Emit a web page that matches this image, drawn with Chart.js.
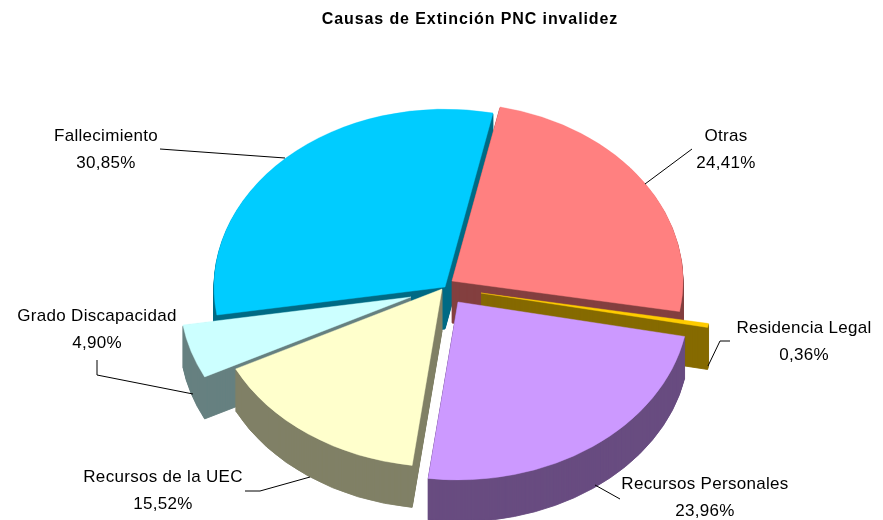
<!DOCTYPE html>
<html>
<head>
<meta charset="utf-8">
<title>Causas de Extinción PNC invalidez</title>
<style>
    html, body { margin: 0; padding: 0; background: #fff; }
    canvas { display: block; }
</style>
<script src="https://cdn.jsdelivr.net/npm/chart.js@4"></script>
</head>
<body>
<canvas id="myChart" width="883" height="520"></canvas>
<script>
const title = 'Causas de Extinción PNC invalidez';
const labels = ['Otras', 'Residencia Legal', 'Recursos Personales', 'Recursos de la UEC', 'Grado Discapacidad', 'Fallecimiento'];
const values = [24.41, 0.36, 23.96, 15.52, 4.90, 30.85];

const topColors = ['#FF8080', '#FFCC00', '#CC99FF', '#FFFFCC', '#CCFFFF', '#00CCFF'];
const sideColors = ['#843F3F', '#866A00', '#684C80', '#808066', '#668080', '#006A85'];
// back slices first, the front ones paint over them
const paintOrder = [5, 0, 1, 4, 3, 2];

// where each exploded slice has its tip on the page
const tips = [[452, 281], [481, 293], [458, 302], [442, 289], [411, 297], [445, 287]];
const squash = 0.77;
const depth = 42;

// label centre x, first line y, then the leader line
const labelPos = [
    { x: 726, y: 136, line: [[692, 149], [645, 184]] },
    { x: 804, y: 328, line: [[730, 341], [720, 341], [708, 366]] },
    { x: 705, y: 484, line: [[620, 499], [595, 485]] },
    { x: 163, y: 477, line: [[245, 491], [260, 491], [310, 477]] },
    { x: 97, y: 316, line: [[97, 360], [97, 375], [193, 394]] },
    { x: 106, y: 136, line: [[160, 149], [285, 158]] }
];

function drawSlice(ctx, arc, tip, drop) {
    ctx.save();
    ctx.translate(tip[0], tip[1] + drop);
    ctx.scale(1, squash);
    ctx.translate(-arc.x, -arc.y);
    arc.draw(ctx);
    ctx.restore();
}

const pie3d = {
    id: 'pie3d',
    beforeDatasetDraw(chart, args) {
        let ctx = chart.ctx;
        let arcs = args.meta.data;
        paintOrder.forEach(function (i) {
            let arc = arcs[i];
            let opts = arc.options;
            // a thin border keeps the narrow slice solid
            arc.options = Object.assign({}, opts, { backgroundColor: sideColors[i], borderColor: sideColors[i], borderWidth: 1 });
            for (let d = depth; d > 0; d--) {
                drawSlice(ctx, arc, tips[i], d);
            }
            arc.options = Object.assign({}, opts, { borderColor: topColors[i], borderWidth: 0.5 });
            drawSlice(ctx, arc, tips[i], 0);
            arc.options = opts;
        });
        return false;
    },
    afterDraw(chart) {
        let ctx = chart.ctx;
        ctx.save();
        ctx.fillStyle = '#000';
        ctx.textAlign = 'center';
        ctx.textBaseline = 'middle';
        ctx.font = 'bold 16px "Liberation Sans", Arial, sans-serif';
        ctx.letterSpacing = '0.9px';
        ctx.fillText(title, 470, 20);
        ctx.font = '17px "Liberation Sans", Arial, sans-serif';
        ctx.letterSpacing = '0.3px';
        for (let i = 0; i < labels.length; i++) {
            let pos = labelPos[i];
            ctx.fillText(labels[i], pos.x, pos.y);
            ctx.fillText(values[i].toFixed(2).replace('.', ',') + '%', pos.x, pos.y + 27);
            ctx.beginPath();
            ctx.moveTo(pos.line[0][0], pos.line[0][1]);
            for (let k = 1; k < pos.line.length; k++) {
                ctx.lineTo(pos.line[k][0], pos.line[k][1]);
            }
            ctx.strokeStyle = '#000';
            ctx.lineWidth = 1;
            ctx.stroke();
        }
        ctx.restore();
    }
};

new Chart(document.getElementById('myChart'), {
    type: 'pie',
    data: {
        labels: labels,
        datasets: [{
            data: values,
            backgroundColor: topColors,
            borderWidth: 0
        }]
    },
    options: {
        responsive: false,
        animation: false,
        rotation: 12,
        radius: 231,
        plugins: { legend: { display: false }, tooltip: { enabled: false } }
    },
    plugins: [pie3d]
});
</script>
</body>
</html>
